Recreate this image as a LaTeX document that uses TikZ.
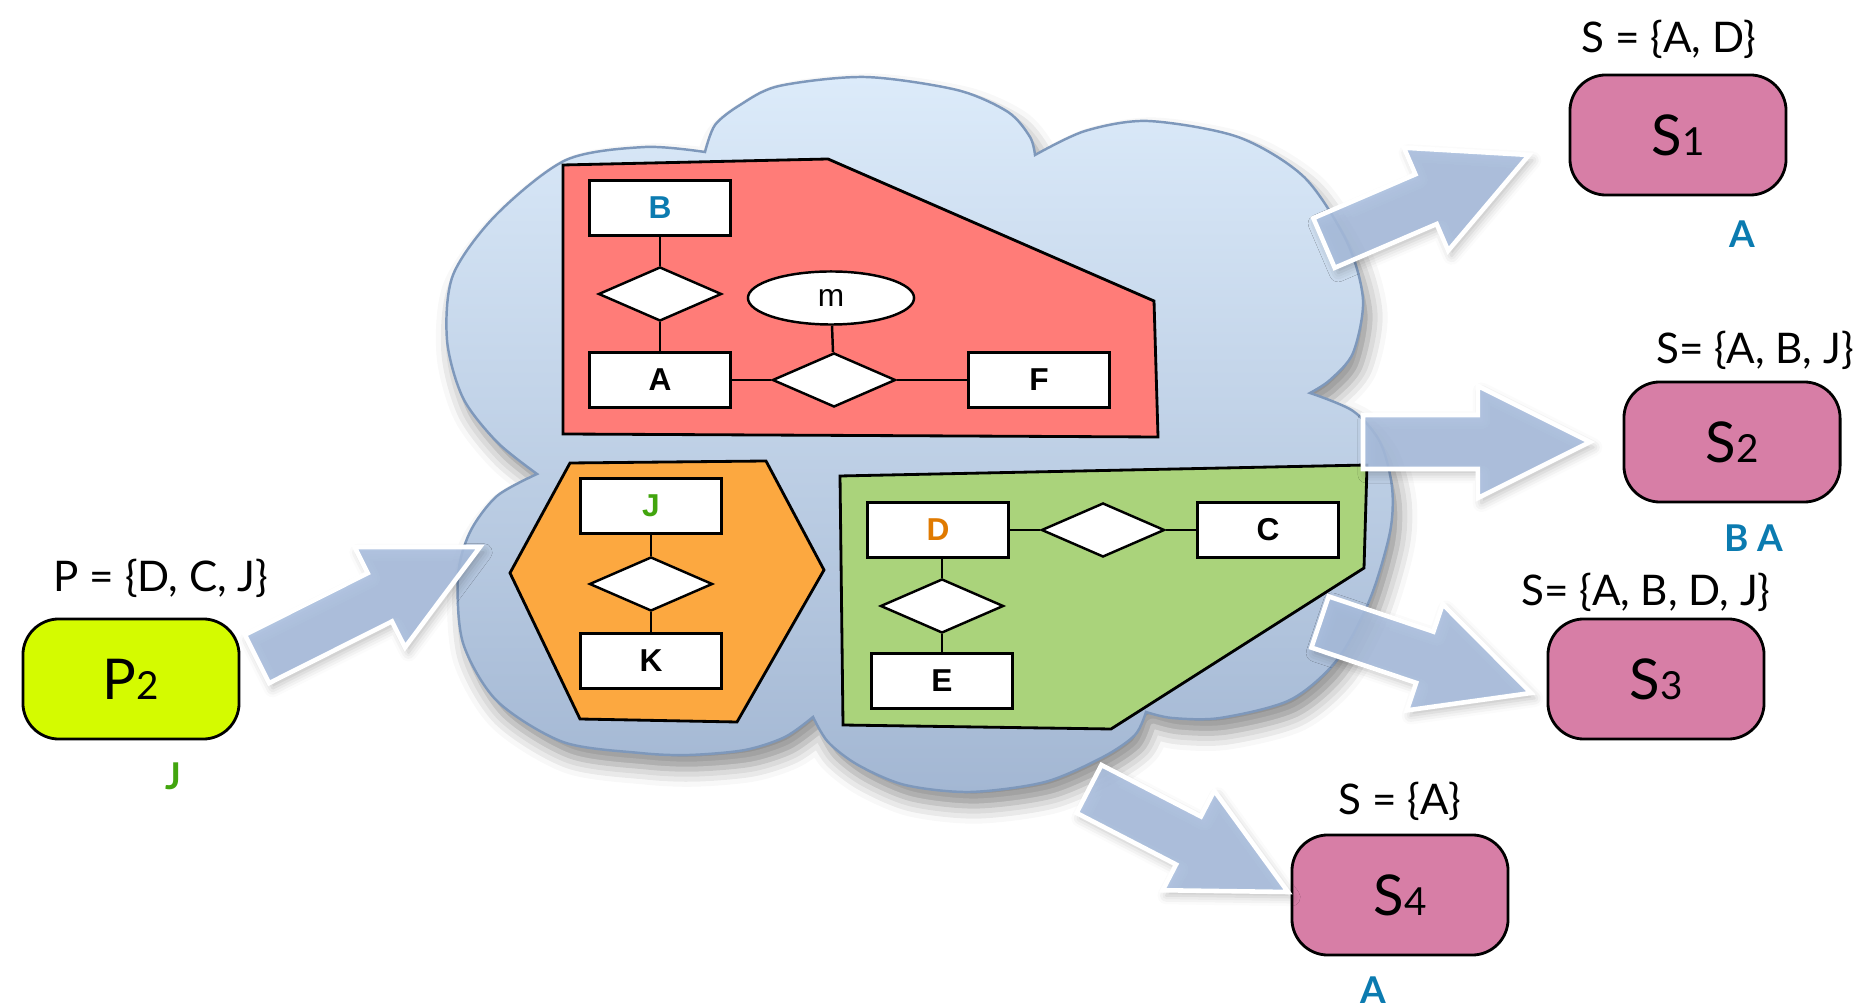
\documentclass[tikz,border=0pt]{standalone}
\usepackage{fontspec}
\setmainfont{Lato}
\newfontfamily\erfont{Liberation Sans}
\usetikzlibrary{shapes.geometric,calc,shadows.blur}

\definecolor{cloudtop}{HTML}{DCEBFA}
\definecolor{cloudbottom}{HTML}{A3B7D3}
\definecolor{cloudline}{HTML}{7E98BB}
\definecolor{redzone}{HTML}{FF7C78}
\definecolor{orangezone}{HTML}{FCA840}
\definecolor{greenzone}{HTML}{AAD37B}
\definecolor{sitepink}{HTML}{D77EA6}
\definecolor{limeyellow}{HTML}{D4FB00}
\definecolor{arrowblue}{HTML}{A9BEDE}
\definecolor{keyblue}{HTML}{0B7BB0}
\definecolor{keygreen}{HTML}{42A50E}
\definecolor{keyorange}{HTML}{E07A00}

\newcommand{\idx}[1]{{\fontsize{11}{11}\selectfont #1}}
% block arrow from #1 (tail) to #2 (tip)
\newcommand{\blockarrow}[2]{%
  \coordinate (headbase) at ($(#2)!1.12cm!(#1)$);
  \filldraw[bigarrow] ($(#1)!0.27cm!90:(#2)$) -- ($(headbase)!0.27cm!90:(#2)$)
    -- ($(headbase)!0.56cm!90:(#2)$) -- (#2) -- ($(headbase)!0.56cm!-90:(#2)$)
    -- ($(headbase)!0.27cm!-90:(#2)$) -- ($(#1)!0.27cm!-90:(#2)$) -- cycle;}

\begin{document}
\begin{tikzpicture}[x=0.01cm, y=-0.01cm,
  erbox/.style={draw, fill=white, line width=0.7pt, minimum width=1.41cm, minimum height=0.55cm, inner sep=0pt, font=\erfont\bfseries\fontsize{9}{9}\selectfont},
  rel/.style={diamond, draw, fill=white, line width=0.7pt, minimum width=1.23cm, minimum height=0.54cm, inner sep=0pt},
  attr/.style={ellipse, draw, fill=white, line width=0.7pt, minimum width=1.66cm, minimum height=0.53cm, inner sep=0pt, font=\erfont\fontsize{9}{9}\selectfont},
  zone/.style={draw, line width=0.8pt, line join=miter},
  site/.style={draw, line width=0.8pt, rounded corners=0.36cm, fill=sitepink, minimum width=2.16cm, minimum height=1.2cm, inner sep=0pt, font=\fontsize{16}{16}\selectfont},
  setlabel/.style={font=\fontsize{12}{14}\selectfont, inner sep=0pt},
  keylabel/.style={font=\bfseries\fontsize{10.5}{11}\selectfont, text=keyblue, inner sep=0pt},
  bigarrow/.style={fill=arrowblue, fill opacity=0.88, draw=white, line width=1.3pt, line join=miter,
    blur shadow={shadow xshift=1pt, shadow yshift=-1.5pt, shadow blur radius=2.5pt, shadow opacity=25}},
  link/.style={line width=0.7pt}]
  \useasboundingbox (0,0) rectangle (1861,1007);

  % the cloud
  \path[draw=cloudline, line width=0.7pt, top color=cloudtop, bottom color=cloudbottom,
        blur shadow={shadow xshift=2pt, shadow yshift=-4pt, shadow blur radius=5pt, shadow opacity=45}]
    plot[smooth] coordinates {(537,474) (497,442) (463,398) (447,340) (453,275) (496,215) (566,160) (645,147) (705,152)}
    --plot[smooth] coordinates {(705,152) (715,125) (740,105) (779,86) (865,77) (957,90) (1008,112) (1030,137) (1035,155)}
    --plot[smooth] coordinates {(1035,155) (1085,131) (1148,121) (1238,137) (1304,177) (1347,242) (1363,300) (1353,353) (1330,380) (1310,393)}
    --plot[smooth] coordinates {(1310,393) (1353,411) (1380,442) (1392,487) (1390,532) (1370,599) (1337,660) (1290,700) (1220,718) (1172,718) (1146,712)}
    --plot[smooth] coordinates {(1146,712) (1135,735) (1103,757) (1045,782) (970,792) (905,785) (858,765) (828,742) (813,717)}
    --plot[smooth] coordinates {(813,717) (785,737) (745,750) (689,755) (640,753) (563,742) (497,701) (463,643) (458,576) (470,532) (497,496) (537,474)}
    -- cycle;

  % fragments
  \draw[zone, fill=redzone] (563,165) -- (828,159) -- (1154,301) -- (1158,437) -- (563,434) -- cycle;
  \draw[zone, fill=orangezone] (570,463) -- (766,461) -- (824,570) -- (737,722) -- (580,719) -- (510,573) -- cycle;
  \draw[zone, fill=greenzone] (840,476) -- (1367,465) -- (1364,568) -- (1111,729) -- (843,725) -- cycle;

  \node[erbox, text=keyblue] (B) at (660,208) {B};
  \node[rel] (rBA) at (660,294) {};
  \node[erbox] (A) at (660,380) {A};
  \node[attr] (m) at (831,298) {m};
  \node[rel] (rAF) at (834,380) {};
  \node[erbox] (F) at (1039,380) {F};
  \draw[link] (B) -- (rBA) -- (A);
  \draw[link] (A) -- (rAF) -- (F);
  \draw[link] (m) -- (rAF);

  \node[erbox, text=keygreen] (J) at (651,506) {J};
  \node[rel] (rJK) at (651,584) {};
  \node[erbox] (K) at (651,661) {K};
  \draw[link] (J) -- (rJK) -- (K);

  \node[erbox, text=keyorange] (D) at (938,530) {D};
  \node[rel] (rDC) at (1103,530) {};
  \node[erbox] (C) at (1268,530) {C};
  \node[rel] (rDE) at (942,606) {};
  \node[erbox] (E) at (942,681) {E};
  \draw[link] (D) -- (rDC) -- (C);
  \draw[link] (rDE.north |- D.south) -- (rDE) -- (E);

  % sites
  \node[site] (s1) at (1678,135) {S\idx{1}};
  \node[site] (s2) at (1732,442) {S\idx{2}};
  \node[site] (s3) at (1656,679) {S\idx{3}};
  \node[site] (s4) at (1400,895) {S\idx{4}};
  \node[site, fill=limeyellow] (p2) at (131,679) {P\idx{2}};

  \node[setlabel] (s1set) at (1669,39) {S = \{A, D\}};
  \node[setlabel] (s2set) at (1755,350) {S= \{A, B, J\}};
  \node[setlabel] (s3set) at (1646,592) {S= \{A, B, D, J\}};
  \node[setlabel] (s4set) at (1400,801) {S = \{A\}};
  \node[setlabel] (p2set) at (161,578) {P = \{D, C, J\}};

  \node[keylabel] (s1key) at (1742,234) {A};
  \node[keylabel] (s2key) at (1754,538) {B A};
  \node[keylabel] (s4key) at (1373,990) {A};
  \node[keylabel, text=keygreen] (p2key) at (173,776) {J};

  % arrows
  \coordinate (a0tail) at (257,659);  \coordinate (a0tip) at (480,547);
  \coordinate (a1tail) at (1324,243); \coordinate (a1tip) at (1529,155);
  \coordinate (a2tail) at (1363,442); \coordinate (a2tip) at (1590,442);
  \coordinate (a3tail) at (1320,622); \coordinate (a3tip) at (1531,693);
  \coordinate (a4tail) at (1089,789); \coordinate (a4tip) at (1288,892);
  \blockarrow{a0tail}{a0tip}
  \blockarrow{a1tail}{a1tip}
  \blockarrow{a2tail}{a2tip}
  \blockarrow{a3tail}{a3tip}
  \blockarrow{a4tail}{a4tip}
\end{tikzpicture}
\end{document}
